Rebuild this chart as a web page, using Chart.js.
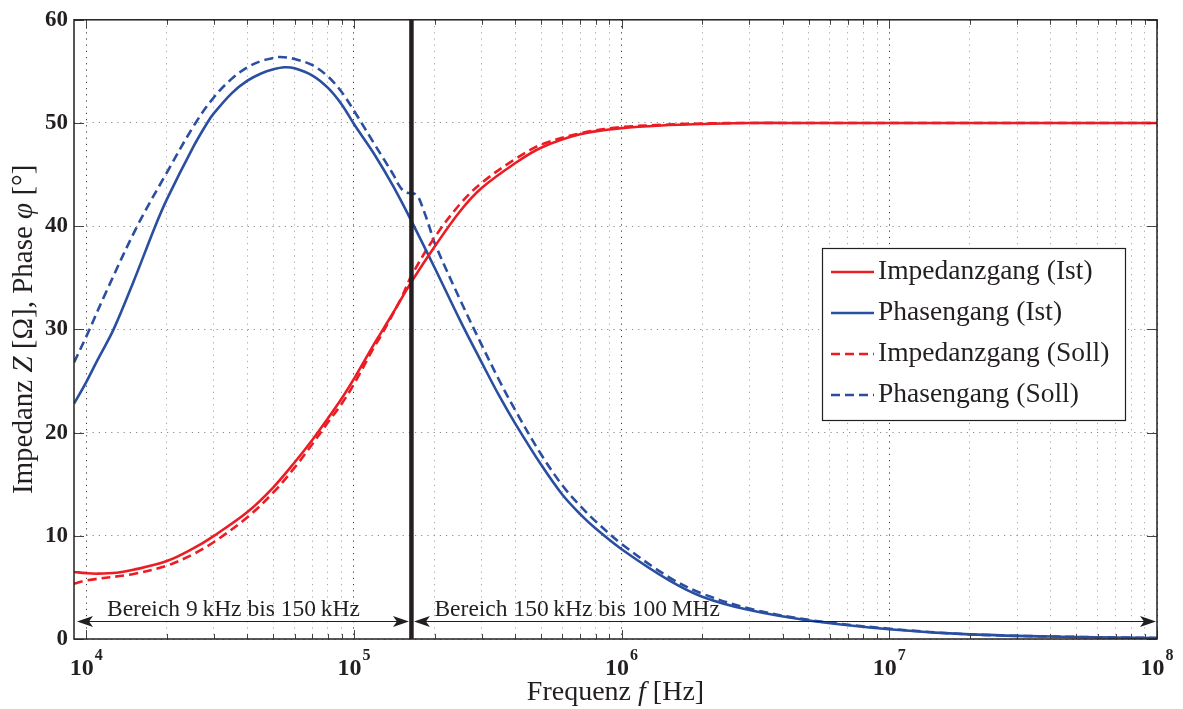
<!DOCTYPE html>
<html>
<head>
<meta charset="utf-8">
<script src="https://cdn.jsdelivr.net/npm/chart.js@4.4.1/dist/chart.umd.min.js"></script>
<style>
  html, body { margin: 0; padding: 0; background: #fff; }
  #wrap { width: 1183px; height: 709px; }
</style>
</head>
<body>
<div id="wrap"><canvas id="chart" width="1183" height="709"></canvas></div>
<script>
// Impedanzgang (Ist)
const freqImpIst = [9e3, 1e4, 1.1e4, 1.3e4, 1.5e4, 2e4, 2.5e4, 3e4, 4e4, 5e4, 6e4, 7e4, 8e4, 9e4, 1e5, 1.19e5, 1.25e5, 1.4e5, 1.64e5, 2e5, 2.5e5, 3e5, 4e5, 5e5, 7e5, 1e6, 1.5e6, 2e6, 3e6, 5e6, 1e7, 1e8];
const impIst = [6.5, 6.38, 6.33, 6.42, 6.7, 7.55, 8.75, 10.0, 12.3, 14.7, 17.1, 19.3, 21.4, 23.3, 25.2, 28.6, 29.5, 31.6, 34.6, 38.0, 41.5, 43.7, 46.1, 47.6, 48.9, 49.5, 49.8, 49.9, 50.0, 50.0, 50.0, 50.0];

// Impedanzgang (Soll)
const freqImpSoll = [9e3, 1e4, 1.5e4, 2e4, 2.5e4, 3e4, 4e4, 5e4, 6e4, 7e4, 8e4, 9e4, 1e5, 1.19e5, 1.25e5, 1.5e5, 1.64e5, 2e5, 2.5e5, 3e5, 4e5, 5e5, 7e5, 1e6, 1.5e6, 2e6, 3e6, 1e7, 1e8];
const impSoll = [5.36, 5.68, 6.3, 7.1, 8.2, 9.4, 11.8, 14.2, 16.6, 18.9, 21.0, 22.8, 24.7, 28.3, 29.2, 33.0, 35.2, 38.9, 42.2, 44.2, 46.5, 47.9, 49.0, 49.6, 49.85, 49.95, 50.0, 50.0, 50.0];

// Phasengang (Ist)
const freqPhaseIst = [9e3, 1e4, 1.1e4, 1.265e4, 1.5e4, 1.81e4, 2e4, 2.5e4, 2.83e4, 3e4, 3.5e4, 4e4, 4.5e4, 5e4, 5.5e4, 6e4, 7e4, 8e4, 9e4, 1e5, 1.19e5, 1.4e5, 1.64e5, 2e5, 2.5e5, 3e5, 3.5e5, 4e5, 5e5, 6e5, 7e5, 8e5, 1e6, 1.5e6, 2e6, 3e6, 5e6, 1e7, 2e7, 5e7, 1e8];
const phaseIst = [22.8, 24.9, 27.0, 30.0, 34.6, 40.0, 42.6, 47.6, 50.0, 50.95, 52.9, 54.1, 54.8, 55.2, 55.4, 55.3, 54.6, 53.4, 51.8, 49.9, 47.0, 43.9, 40.5, 36.0, 30.8, 26.8, 23.5, 20.9, 16.9, 14.0, 12.1, 10.7, 8.7, 5.7, 4.1, 2.8, 1.8, 0.95, 0.45, 0.2, 0.1];

// Phasengang (Soll)
const freqPhaseSoll = [9e3, 1e4, 1.19e4, 1.55e4, 2e4, 2.56e4, 3e4, 3.5e4, 4e4, 4.5e4, 5e4, 5.3e4, 6e4, 7e4, 8e4, 9e4, 1e5, 1.19e5, 1.3e5, 1.41e5, 1.47e5, 1.52e5, 1.58e5, 1.64e5, 1.7e5, 1.75e5, 1.8e5, 1.9e5, 2e5, 2.5e5, 3e5, 3.5e5, 4e5, 5e5, 6e5, 7e5, 8e5, 1e6, 1.5e6, 2e6, 3e6, 5e6, 1e7, 2e7, 5e7, 1e8];
const phaseSoll = [26.8, 29.3, 33.7, 40.0, 45.2, 50.0, 52.5, 54.3, 55.4, 56.0, 56.3, 56.4, 56.2, 55.6, 54.5, 53.0, 51.2, 48.0, 46.4, 44.9, 44.0, 43.5, 43.25, 43.2, 43.1, 42.7, 41.9, 40.2, 38.4, 32.8, 28.5, 25.0, 22.2, 17.9, 14.9, 12.9, 11.4, 9.2, 6.0, 4.4, 2.95, 1.85, 1.0, 0.45, 0.2, 0.1];

// Bereichsgrenze und Pfeile
const markerFreq = 1.64e5;
const rangeStart = 9e3;
const rangeEnd = 1e8;
const arrowLevel = 1.7;
const rangeLabels = ["Bereich 9\u2009kHz bis 150\u2009kHz", "Bereich 150\u2009kHz bis 100\u2009MHz"];

// Achsen
const xDecades = [1e4, 1e5, 1e6, 1e7, 1e8];
const yTicks = [0, 10, 20, 30, 40, 50, 60];
const legendLabels = ["Impedanzgang (Ist)", "Phasengang (Ist)", "Impedanzgang (Soll)", "Phasengang (Soll)"];

const RED = "#ec1c24";
const BLUE = "#2a4fa0";
const INK = "#231f20";
const SERIF = '"Liberation Serif", "Times New Roman", serif';

const xTickVals = [];
for (let n = 4; n < 8; n++) {
  for (let k = 1; k <= 9; k++) xTickVals.push(k * Math.pow(10, n));
}
xTickVals.push(1e8);
const isDecade = (v) => Math.abs(Math.log10(v) - Math.round(Math.log10(v))) < 1e-9;

const toPoints = (xs, ys) => xs.map((x, i) => ({ x: x, y: ys[i] }));

function drawParts(ctx, parts, x, y) {
  let total = 0;
  parts.forEach((p) => {
    ctx.font = p.font;
    p.w = ctx.measureText(p.text).width;
    total += p.w;
  });
  let cx = x - total / 2;
  ctx.textAlign = "left";
  parts.forEach((p) => {
    ctx.font = p.font;
    ctx.fillText(p.text, cx, y);
    cx += p.w;
  });
}

function arrowHead(ctx, tipX, y, dir) {
  const L = 16, H = 5.5, notch = 4;
  ctx.beginPath();
  ctx.moveTo(tipX, y);
  ctx.lineTo(tipX - dir * L, y - H);
  ctx.lineTo(tipX - dir * (L - notch), y);
  ctx.lineTo(tipX - dir * L, y + H);
  ctx.closePath();
  ctx.fill();
}

const decorations = {
  id: "decorations",
  beforeDraw(chart) {
    const ctx = chart.ctx;
    ctx.save();
    ctx.fillStyle = "#fff";
    ctx.fillRect(0, 0, chart.width, chart.height);
    ctx.restore();
  },
  afterDraw(chart) {
    const { ctx, chartArea: a, scales } = chart;
    const x = scales.x, y = scales.y;
    ctx.save();

    // innere Teilstriche
    ctx.strokeStyle = "#444";
    ctx.lineWidth = 1;
    ctx.beginPath();
    xTickVals.forEach((v) => {
      const px = Math.round(x.getPixelForValue(v)) + 0.5;
      const len = isDecade(v) ? 9 : 5;
      ctx.moveTo(px, a.bottom); ctx.lineTo(px, a.bottom - len);
      ctx.moveTo(px, a.top); ctx.lineTo(px, a.top + len);
    });
    yTicks.forEach((v) => {
      const py = Math.round(y.getPixelForValue(v)) + 0.5;
      ctx.moveTo(a.left, py); ctx.lineTo(a.left + 10, py);
      ctx.moveTo(a.right, py); ctx.lineTo(a.right - 10, py);
    });
    ctx.stroke();

    // Rahmen
    ctx.strokeStyle = INK;
    ctx.lineWidth = 1.5;
    ctx.strokeRect(a.left, a.top, a.right - a.left, a.bottom - a.top);

    // x-Beschriftung 10^n
    ctx.fillStyle = INK;
    ctx.textBaseline = "alphabetic";
    xDecades.forEach((v) => {
      const px = x.getPixelForValue(v);
      const exp = String(Math.round(Math.log10(v)));
      ctx.font = "bold 24px " + SERIF;
      const w1 = ctx.measureText("10").width;
      ctx.font = "bold 16px " + SERIF;
      const w2 = ctx.measureText(exp).width;
      const sx = px - (w1 + w2 + 1) / 2;
      ctx.font = "bold 24px " + SERIF;
      ctx.textAlign = "left";
      ctx.fillText("10", sx, 675);
      ctx.font = "bold 16px " + SERIF;
      ctx.fillText(exp, sx + w1 + 1, 660);
    });

    // Achsentitel
    const regX = "28px " + SERIF, itaX = "italic 28px " + SERIF;
    drawParts(ctx, [
      { text: "Frequenz ", font: regX },
      { text: "f", font: itaX },
      { text: " [Hz]", font: regX }
    ], (a.left + a.right) / 2, 700);

    const regY = "29px " + SERIF, itaY = "italic 29px " + SERIF;
    ctx.save();
    ctx.translate(32, (a.top + a.bottom) / 2);
    ctx.rotate(-Math.PI / 2);
    drawParts(ctx, [
      { text: "Impedanz ", font: regY },
      { text: "Z", font: itaY },
      { text: " [\u03A9], Phase ", font: regY },
      { text: "\u03C6", font: itaY },
      { text: " [\u00B0]", font: regY }
    ], 0, 0);
    ctx.restore();

    // Bereichspfeile
    const ay = Math.round(y.getPixelForValue(arrowLevel)) + 0.5;
    const xs = x.getPixelForValue(rangeStart) + 3;
    const xm = x.getPixelForValue(markerFreq);
    const xe = x.getPixelForValue(rangeEnd) - 1;
    ctx.strokeStyle = INK;
    ctx.fillStyle = INK;
    ctx.lineWidth = 1.2;
    ctx.beginPath();
    ctx.moveTo(xs + 4, ay); ctx.lineTo(xm - 6, ay);
    ctx.moveTo(xm + 6, ay); ctx.lineTo(xe - 4, ay);
    ctx.stroke();
    arrowHead(ctx, xs, ay, -1);
    arrowHead(ctx, xm - 2.5, ay, 1);
    arrowHead(ctx, xm + 2.5, ay, -1);
    arrowHead(ctx, xe, ay, 1);
    ctx.font = "23.5px " + SERIF;
    ctx.textAlign = "left";
    ctx.fillText(rangeLabels[0], xs + 30, ay - 6);
    ctx.fillText(rangeLabels[1], xm + 23, ay - 6);

    // Legende
    const lx = 822, ly = 248, lw = 303, lh = 172;
    ctx.fillStyle = "#fff";
    ctx.fillRect(lx, ly, lw, lh);
    ctx.strokeStyle = INK;
    ctx.lineWidth = 1.2;
    ctx.strokeRect(lx + 0.5, ly + 0.5, lw, lh);
    const styles = [
      { color: RED, dash: [] },
      { color: BLUE, dash: [] },
      { color: RED, dash: [9, 5] },
      { color: BLUE, dash: [9, 5] }
    ];
    legendLabels.forEach((label, i) => {
      const rowY = 272 + i * 41;
      ctx.strokeStyle = styles[i].color;
      ctx.lineWidth = 2.6;
      ctx.setLineDash(styles[i].dash);
      ctx.beginPath();
      ctx.moveTo(831, rowY); ctx.lineTo(874, rowY);
      ctx.stroke();
      ctx.setLineDash([]);
      ctx.fillStyle = INK;
      ctx.font = "27.5px " + SERIF;
      ctx.textAlign = "left";
      ctx.fillText(label, 878, rowY + 7);
    });

    ctx.restore();
  }
};

const lineDefaults = {
  pointRadius: 0,
  borderWidth: 2.6,
  fill: false,
  tension: 0.35,
  clip: 0
};

new Chart(document.getElementById("chart"), {
  type: "line",
  data: {
    datasets: [
      Object.assign({ label: "Grenze", data: [{ x: markerFreq, y: 0 }, { x: markerFreq, y: 60 }],
        borderColor: INK, order: -1 }, lineDefaults, { borderWidth: 4.5, tension: 0 }),
      Object.assign({ label: legendLabels[0], data: toPoints(freqImpIst, impIst), borderColor: RED }, lineDefaults),
      Object.assign({ label: legendLabels[1], data: toPoints(freqPhaseIst, phaseIst), borderColor: BLUE }, lineDefaults),
      Object.assign({ label: legendLabels[2], data: toPoints(freqImpSoll, impSoll), borderColor: RED, borderDash: [9, 5] }, lineDefaults),
      Object.assign({ label: legendLabels[3], data: toPoints(freqPhaseSoll, phaseSoll), borderColor: BLUE, borderDash: [9, 5] }, lineDefaults)
    ]
  },
  options: {
    responsive: false,
    animation: false,
    devicePixelRatio: 1,
    layout: { padding: { top: 18, right: 26, left: 0, bottom: 0 } },
    plugins: { legend: { display: false }, tooltip: { enabled: false } },
    scales: {
      x: {
        type: "logarithmic",
        min: rangeStart,
        max: rangeEnd,
        afterBuildTicks: (s) => { s.ticks = xTickVals.map((v) => ({ value: v })); },
        afterFit: (s) => { s.height = 70; },
        ticks: { display: false },
        border: { display: false, dash: [1.2, 5] },
        grid: {
          drawTicks: false,
          lineWidth: 1,
          color: (c) => (c.tick && isDecade(c.tick.value) ? "#3a3a3a" : "#a8a8a8")
        }
      },
      y: {
        type: "linear",
        min: 0,
        max: 60,
        afterBuildTicks: (s) => { s.ticks = yTicks.map((v) => ({ value: v })); },
        afterFit: (s) => { s.width = 74; },
        ticks: {
          color: INK,
          padding: 6,
          font: { family: SERIF, size: 23, weight: "bold" }
        },
        border: { display: false, dash: [1.2, 5] },
        grid: { drawTicks: false, lineWidth: 1, color: "#8a8a8a" }
      }
    }
  },
  plugins: [decorations]
});
</script>
</body>
</html>
